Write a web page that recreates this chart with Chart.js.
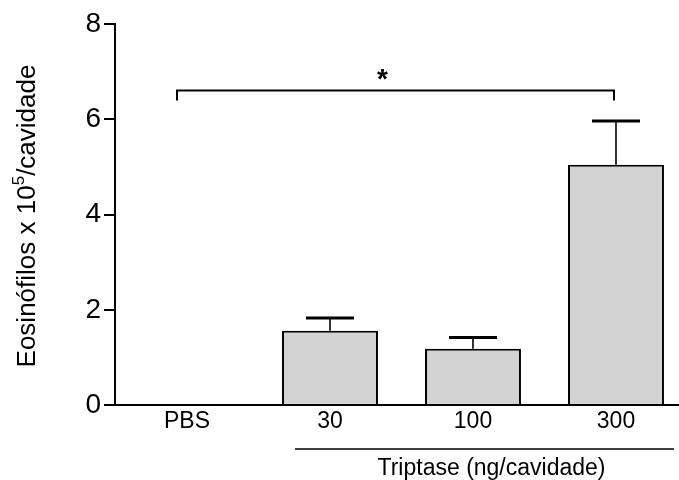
<!DOCTYPE html>
<html>
<head>
<meta charset="utf-8">
<script src="https://cdn.jsdelivr.net/npm/chart.js@4.4.1/dist/chart.umd.min.js"></script>
<style>
  html, body { margin: 0; padding: 0; background: #fff; }
  #wrap { width: 679px; height: 480px; }
</style>
</head>
<body>
<div id="wrap"><canvas id="graph_container"></canvas></div>
<script>
// groups and values (eosinophils x 10^5 per cavity, mean and SEM)
var categories = ["PBS", "30", "100", "300"];
var eosinophils = [0, 1.56, 1.18, 5.05];
var sem = [0, 0.27, 0.24, 0.92];
var yTicks = [0, 2, 4, 6, 8];

// significance bracket between PBS and 300
var sigFrom = 0;
var sigTo = 3;
var sigLevel = 6.61;
var sigLabel = "*";

// grouping under the triptase doses
var groupFrom = 1;
var groupTo = 3;
var groupLabel = "Triptase (ng/cavidade)";

var FONT = "'Liberation Sans', Arial, sans-serif";

var extras = {
    id: 'extras',
    afterDatasetsDraw: function(chart){
        var ctx = chart.ctx;
        var xs = chart.scales.x;
        var ys = chart.scales.y;
        var bars = chart.getDatasetMeta(0).data;
        ctx.save();
        ctx.strokeStyle = '#000';
        ctx.fillStyle = '#000';

        // error bars, upper half only
        for(var i=0;i<eosinophils.length;i++){
            if(!sem[i]) continue;
            var x = bars[i].x;
            var yBar = ys.getPixelForValue(eosinophils[i]);
            var yTop = ys.getPixelForValue(eosinophils[i] + sem[i]);
            ctx.lineWidth = 1.6;
            ctx.beginPath();
            ctx.moveTo(x, yBar);
            ctx.lineTo(x, yTop);
            ctx.stroke();
            ctx.lineWidth = 3;
            ctx.beginPath();
            ctx.moveTo(x - 24, yTop);
            ctx.lineTo(x + 24, yTop);
            ctx.stroke();
        }

        // bracket + star
        var bx0 = xs.getPixelForValue(sigFrom) - 10;
        var bx1 = xs.getPixelForValue(sigTo) - 2;
        var by = ys.getPixelForValue(sigLevel);
        ctx.lineWidth = 2;
        ctx.beginPath();
        ctx.moveTo(bx0, by + 10);
        ctx.lineTo(bx0, by);
        ctx.lineTo(bx1, by);
        ctx.lineTo(bx1, by + 10);
        ctx.stroke();
        ctx.font = "bold 28px " + FONT;
        ctx.textAlign = 'center';
        ctx.textBaseline = 'middle';
        ctx.fillText(sigLabel, (bx0 + bx1) / 2 - 13, by - 10);

        // line and label under the dose ticks
        var gx0 = xs.getPixelForValue(groupFrom) - 35;
        var gx1 = xs.getPixelForValue(groupTo) + 58;
        var gy = 449;
        ctx.lineWidth = 1.5;
        ctx.beginPath();
        ctx.moveTo(gx0, gy);
        ctx.lineTo(gx1, gy);
        ctx.stroke();
        ctx.font = "23px " + FONT;
        ctx.fillText(groupLabel, (gx0 + gx1) / 2 + 7, 469);

        // y title with superscript exponent
        var big = "26px " + FONT;
        var small = "17px " + FONT;
        var a = "Eosinófilos x 10", b = "5", c = "/cavidade";
        ctx.translate(35, 216);
        ctx.rotate(-Math.PI / 2);
        ctx.textAlign = 'left';
        ctx.textBaseline = 'alphabetic';
        ctx.font = big;
        var wa = ctx.measureText(a).width, wc = ctx.measureText(c).width;
        ctx.font = small;
        var wb = ctx.measureText(b).width;
        var sx = -(wa + wb + wc) / 2;
        ctx.font = big;
        ctx.fillText(a, sx, 0);
        ctx.font = small;
        ctx.fillText(b, sx + wa, -11);
        ctx.font = big;
        ctx.fillText(c, sx + wa + wb, 0);
        ctx.restore();
    }
};

var ctx = document.getElementById('graph_container').getContext('2d');
var myChart = new Chart(ctx, {
    type: 'bar',
    data: {
        datasets: [{
            data: categories.map(function(c, i){ return {x: i, y: eosinophils[i]}; }),
            backgroundColor: '#d3d3d3',
            borderColor: '#000',
            borderWidth: 2,
            barPercentage: 0.671,
            categoryPercentage: 1
        }]
    },
    options: {
        responsive: true,
        maintainAspectRatio: false,
        animation: false,
        layout: { padding: { top: 24.3, right: 0, left: 0, bottom: 0 } },
        plugins: { legend: { display: false }, tooltip: { enabled: false } },
        scales: {
            x: {
                type: 'linear',
                offset: false,
                min: -0.5035,
                max: 3.4406,
                afterFit: function(s){ s.height = 75; },
                afterBuildTicks: function(s){
                    s.ticks = categories.map(function(c, i){ return {value: i}; });
                },
                grid: { display: false, drawTicks: false },
                border: { display: true, color: '#000', width: 2 },
                ticks: {
                    color: '#000',
                    padding: 3,
                    maxRotation: 0,
                    autoSkip: false,
                    font: { family: FONT, size: 23 },
                    callback: function(v){ return categories[v]; }
                }
            },
            y: {
                min: yTicks[0],
                max: yTicks[yTicks.length - 1],
                afterFit: function(s){ s.width = 115; },
                afterBuildTicks: function(s){
                    s.ticks = yTicks.map(function(v){ return {value: v}; });
                },
                grid: { drawOnChartArea: false, drawTicks: true, tickLength: 11, color: '#000', lineWidth: 2 },
                border: { display: true, color: '#000', width: 2 },
                ticks: {
                    color: '#000',
                    padding: 3,
                    font: { family: FONT, size: 28 }
                }
            }
        }
    },
    plugins: [extras]
});
</script>
</body>
</html>
